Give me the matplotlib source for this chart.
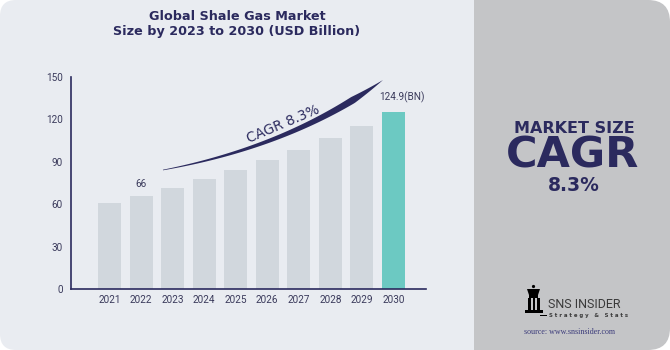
#!/usr/bin/env python3
"""Global shale gas market size, 2021-2030, as an infographic card."""
import matplotlib
matplotlib.use("Agg")
import matplotlib.pyplot as plt
from matplotlib.patches import FancyBboxPatch, Polygon, Rectangle, Circle
import numpy as np

years = ["2021", "2022", "2023", "2024", "2025", "2026", "2027", "2028", "2029", "2030"]
market_size = [61.2, 66.0, 71.6, 77.6, 84.1, 91.1, 98.6, 106.9, 115.6, 124.9]
y_ticks = [0, 30, 60, 90, 120, 150]
label_2022 = "66"
label_2030 = "124.9(BN)"
cagr_label = "CAGR 8.3%"
title = "Global Shale Gas Market\nSize by 2023 to 2030 (USD Billion)"

NAVY = "#2b2a5e"
TICK = "#3b3b5c"
BAR = "#d1d7dd"
BAR_HI = "#6cc9c2"
LEFT_BG = "#e9ecf1"
RIGHT_BG = "#c4c5c7"

W, H = 670, 350
fig = plt.figure(figsize=(W / 100, H / 100), dpi=100)
fig.patch.set_facecolor("white")

# background card, drawn in pixel coords (y down)
bg = fig.add_axes([0, 0, 1, 1], zorder=0)
bg.set_xlim(0, W)
bg.set_ylim(H, 0)
bg.axis("off")
bg.add_patch(FancyBboxPatch((0, 0), 500, H, boxstyle="round,pad=0,rounding_size=16",
                            fc=LEFT_BG, ec="none"))
bg.add_patch(FancyBboxPatch((474, 0), W - 474, H, boxstyle="round,pad=0,rounding_size=22",
                            fc=RIGHT_BG, ec="none"))
bg.add_patch(Rectangle((474, 0), 40, H, fc=RIGHT_BG, ec="none"))

bg.text(237, 24, title, ha="center", va="center", fontsize=9.2,
        fontweight="bold", color=NAVY, linespacing=1.25)

# right panel (baselines)
bg.text(574, 133, "MARKET SIZE", ha="center", va="baseline", fontsize=11.5,
        fontweight="heavy", color=NAVY)
bg.text(573, 168, "CAGR", ha="center", va="baseline", fontsize=31,
        fontweight="heavy", color=NAVY)
bg.text(574, 191, "8.3%", ha="center", va="baseline", fontsize=13.5,
        fontweight="heavy", color=NAVY)

# logo (rough rook silhouette)
bg.add_patch(Circle((533.5, 286.5), 1.6, fc="black", ec="none"))
bg.add_patch(Polygon([(527, 289), (540, 289), (538, 295), (529, 295)],
                     closed=True, fc="black", ec="none"))
bg.add_patch(Rectangle((529, 295), 9, 3, fc="black", ec="none"))
bg.add_patch(Rectangle((528, 298), 3, 12, fc="black", ec="none"))
bg.add_patch(Rectangle((533, 298), 2, 12, fc="black", ec="none"))
bg.add_patch(Rectangle((537, 298), 3, 12, fc="black", ec="none"))
bg.add_patch(Rectangle((525, 310), 18, 3, fc="black", ec="none"))
bg.add_patch(Rectangle((540, 314.5), 7, 1.2, fc="black", ec="none"))
bg.text(548, 304, "SNS INSIDER", ha="left", va="center", fontsize=9,
        family="Roboto", color="#3a3a3a")
bg.text(549, 316, "S t r a t e g y   &   S t a t s", ha="left", va="center",
        fontsize=3.9, fontweight="bold", color="#3a3a3a")
bg.text(570, 332, "source: www.snsinsider.com", ha="center", va="center",
        fontsize=5.8, family="Liberation Serif", color="#3a3a7a")

# chart
ax = fig.add_axes([71 / W, 1 - 289 / H, (426 - 71) / W, (289 - 77) / H], zorder=1)
ax.set_facecolor("none")
x = np.arange(len(years))
colors = [BAR] * (len(years) - 1) + [BAR_HI]
ax.bar(x, market_size, width=0.73, color=colors, zorder=2)
ax.set_xlim(-1.22, 10.03)
ax.set_ylim(0, 150)
ax.set_xticks(x)
ax.set_xticklabels(years)
ax.set_yticks(y_ticks)
for s in ("top", "right"):
    ax.spines[s].set_visible(False)
for s in ("left", "bottom"):
    ax.spines[s].set_color(NAVY)
    ax.spines[s].set_linewidth(1.2)
ax.tick_params(axis="both", length=0, labelsize=7.2, labelcolor=TICK)
ax.tick_params(axis="y", pad=6)
ax.tick_params(axis="x", pad=4)
for lab in ax.get_xticklabels() + ax.get_yticklabels():
    lab.set_family("Roboto")

ax.annotate(label_2022, (1, market_size[1]), xytext=(0, 5), textcoords="offset points",
            ha="center", va="bottom", fontsize=7.2, color=TICK, family="Roboto")
ax.annotate(label_2030, (9, market_size[9]), xytext=(6, 7), textcoords="offset points",
            ha="center", va="bottom", fontsize=7.2, color=TICK, family="Roboto")

# CAGR swoosh arrow (pixel coords): thin start, thick body, pointed tip
ov = fig.add_axes([0, 0, 1, 1], zorder=2)
ov.set_xlim(0, W)
ov.set_ylim(H, 0)
ov.axis("off")
p0, p1, p2 = np.array([163, 170.]), np.array([292, 146.]), np.array([383, 80.])
t = np.linspace(0, 1, 160)
pts = ((1 - t) ** 2)[:, None] * p0 + (2 * t * (1 - t))[:, None] * p1 + (t ** 2)[:, None] * p2
d = 2 * (1 - t)[:, None] * (p1 - p0) + 2 * t[:, None] * (p2 - p1)
nrm = np.stack([-d[:, 1], d[:, 0]], axis=1)
nrm /= np.linalg.norm(nrm, axis=1)[:, None]
t_peak = 0.84
w_peak = 0.6 + 7.5 * t_peak
w = np.where(t < t_peak, 0.6 + 7.5 * t, w_peak * (1 - t) / (1 - t_peak))
upper = pts + nrm * (w / 2)[:, None]
lower = pts - nrm * (w / 2)[:, None]
ov.add_patch(Polygon(np.vstack([upper, lower[::-1]]), closed=True, fc=NAVY, ec="none"))
ov.text(283, 124, cagr_label, ha="center", va="center", rotation=23,
        fontsize=9.8, color=NAVY, rotation_mode="anchor")

fig.savefig("out.png", dpi=100)
